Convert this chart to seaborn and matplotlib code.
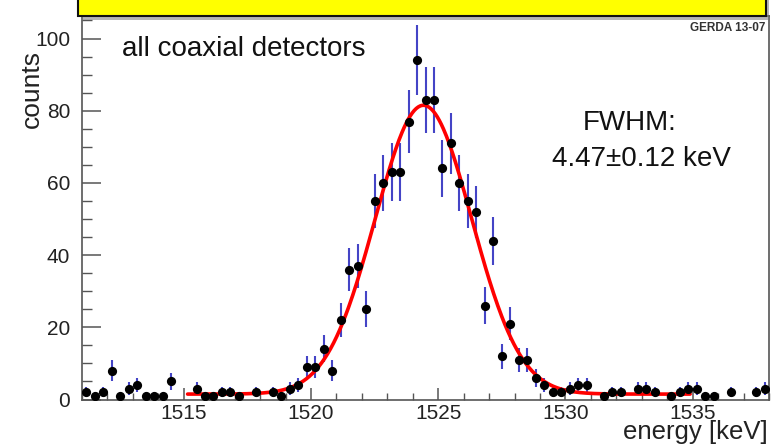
import numpy as np
import pandas as pd
import matplotlib
matplotlib.use("Agg")
import matplotlib.pyplot as plt
import seaborn as sns
from matplotlib.patches import Rectangle
from matplotlib.ticker import MultipleLocator

# ---- data ----
counts = [2, 1, 2, 8, 1, 3, 4, 1, 1, 1,
          5, 0, 0, 3, 1, 1, 2, 2, 1, 0,
          2, 0, 2, 1, 3, 4, 9, 9, 14, 8,
          22, 36, 37, 25, 55, 60, 63, 63, 77, 94,
          83, 83, 64, 71, 60, 55, 52, 26, 44, 12,
          21, 11, 11, 6, 4, 2, 2, 3, 4, 4,
          0, 1, 2, 2, 0, 3, 3, 2, 0, 1,
          2, 3, 3, 1, 1, 0, 2, 0, 0, 2,
          3]
bin_start = 1511.0
bin_width = 1.0 / 3.0
energy = bin_start + (np.arange(len(counts)) + 0.5) * bin_width

fit_mean = 1524.42
fit_fwhm = 4.47
fit_amp = 80.0
fit_bkg = 1.5
fit_lo, fit_hi = 1515.15, 1534.9

x_ticks = [1515, 1520, 1525, 1530, 1535]
y_ticks = [0, 20, 40, 60, 80, 100]

# ---- style ----
sns.set_theme(style="ticks")
plt.rcParams["font.family"] = ["Liberation Sans", "DejaVu Sans"]

W, H = 777, 446
fig = plt.figure(figsize=(W / 100, H / 100), dpi=100)
ax_top_px, ax_bot_px, ax_left_px, ax_right_px = 16, 399.5, 82, 769
ax = fig.add_axes([ax_left_px / W, (H - ax_bot_px) / H,
                   (ax_right_px - ax_left_px) / W, (ax_bot_px - ax_top_px) / H])

df = pd.DataFrame({"energy": energy, "counts": counts})
nz = df[df["counts"] > 0]

ax.errorbar(nz["energy"], nz["counts"], yerr=np.sqrt(nz["counts"]), fmt="none",
            ecolor="#4444c6", elinewidth=1.5, capsize=0, zorder=2)

sigma = fit_fwhm / (2 * np.sqrt(2 * np.log(2)))
xs = np.linspace(fit_lo, fit_hi, 500)
ys = fit_bkg + fit_amp * np.exp(-0.5 * ((xs - fit_mean) / sigma) ** 2)
sns.lineplot(x=xs, y=ys, color="#ff0000", linewidth=2.6, ax=ax, zorder=3)

sns.scatterplot(data=nz, x="energy", y="counts", color="black", s=44,
                edgecolor="black", linewidth=0, ax=ax, zorder=4)

ax.set_xlim(1511, 1538)
ax.set_ylim(0, (ax_bot_px - ax_top_px) / 3.61)
ax.set_xticks(x_ticks)
ax.set_yticks(y_ticks)
ax.xaxis.set_minor_locator(MultipleLocator(1))
ax.yaxis.set_minor_locator(MultipleLocator(5))
ax.set_xlabel("")
ax.set_ylabel("")

axis_col = "#555555"
for s in ax.spines.values():
    s.set_color(axis_col)
    s.set_linewidth(1.2)
ax.tick_params(axis="x", which="major", direction="in", length=8.5, width=1.1,
               color=axis_col, labelsize=15, pad=3.0, labelcolor="#222222")
ax.tick_params(axis="x", which="minor", direction="in", length=5, width=1.0,
               color=axis_col)
ax.tick_params(axis="y", which="major", direction="in", length=14, width=1.1,
               color=axis_col, labelsize=15, pad=8.5, labelcolor="#222222")
ax.tick_params(axis="y", which="minor", direction="in", length=7, width=1.0,
               color=axis_col)

# axis titles
fig.text(768 / W, 1 - 439 / H, "energy [keV]", ha="right", va="baseline",
         fontsize=18.5, color="#222222")
fig.text(32 / W, 1 - 89 / H, "counts", rotation=90, ha="center", va="center",
         fontsize=19, color="#222222")

# annotations
fig.text(122 / W, 1 - 56 / H, "all coaxial detectors", ha="left", va="baseline",
         fontsize=20, color="#111111")
fig.text(583 / W, 1 - 130 / H, "FWHM:", ha="left", va="baseline",
         fontsize=20, color="#111111")
fig.text(551.5 / W, 1 - 166 / H, "4.47\u00b10.12 keV", ha="left", va="baseline",
         fontsize=20, color="#111111")

# yellow title box with shadow
shadow = Rectangle((81 / W, 1 - 20 / H), 688 / W, 30 / H, transform=fig.transFigure,
                   facecolor="#7a7a7a", edgecolor="none", alpha=0.55, zorder=9)
box = Rectangle((78 / W, 1 - 16 / H), 688 / W, 30 / H, transform=fig.transFigure,
                facecolor="#ffff00", edgecolor="#111111", linewidth=1.5, zorder=10)
fig.add_artist(shadow)
fig.add_artist(box)
fig.text(765 / W, 1 - 31 / H, "GERDA 13-07", ha="right", va="baseline",
         fontsize=8.5, fontweight="bold", color="#333333")

fig.savefig("out.png", dpi=100)
